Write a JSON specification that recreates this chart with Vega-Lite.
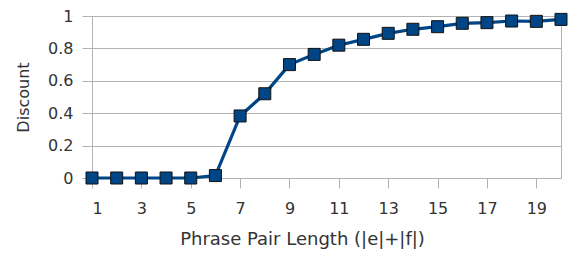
{
  "$schema": "https://vega.github.io/schema/vega-lite/v6.json",
  "width": 469,
  "height": 162,
  "autosize": "none",
  "padding": {"left": 92, "top": 16, "right": 9, "bottom": 77},
  "background": "white",
  "config": {
    "view": {"stroke": "#b3b3b3", "strokeWidth": 1},
    "font": "DejaVu Sans"
  },
  "data": {
    "values": [
      {"len": 1, "discount": 0},
      {"len": 2, "discount": 0},
      {"len": 3, "discount": 0},
      {"len": 4, "discount": 0},
      {"len": 5, "discount": 0},
      {"len": 6, "discount": 0.015},
      {"len": 7, "discount": 0.383},
      {"len": 8, "discount": 0.52},
      {"len": 9, "discount": 0.70},
      {"len": 10, "discount": 0.763},
      {"len": 11, "discount": 0.82},
      {"len": 12, "discount": 0.856},
      {"len": 13, "discount": 0.893},
      {"len": 14, "discount": 0.918},
      {"len": 15, "discount": 0.934},
      {"len": 16, "discount": 0.955},
      {"len": 17, "discount": 0.959},
      {"len": 18, "discount": 0.969},
      {"len": 19, "discount": 0.967},
      {"len": 20, "discount": 0.979}
    ]
  },
  "encoding": {
    "x": {
      "field": "len",
      "type": "quantitative",
      "scale": {"domain": [1, 20], "nice": false, "zero": false},
      "axis": {
        "values": [1, 3, 5, 7, 9, 11, 13, 15, 17, 19],
        "title": "Phrase Pair Length (|e|+|f|)",
        "grid": false,
        "domainColor": "#b3b3b3",
        "tickColor": "#b3b3b3",
        "tickSize": 10,
        "labelPadding": 12,
        "labelFontSize": 16,
        "labelColor": "#333333",
        "titleFontSize": 18,
        "titleFontWeight": "normal",
        "titleColor": "#333333",
        "titlePadding": 14,
        "titleX": 210,
        "titleAlign": "center"
      }
    },
    "y": {
      "field": "discount",
      "type": "quantitative",
      "scale": {"domain": [0, 1], "nice": false},
      "axis": {
        "values": [0, 0.2, 0.4, 0.6, 0.8, 1],
        "format": "~g",
        "title": "Discount",
        "grid": true,
        "gridColor": "#b3b3b3",
        "domainColor": "#b3b3b3",
        "tickColor": "#b3b3b3",
        "tickSize": 10,
        "labelPadding": 9,
        "labelFontSize": 16,
        "labelColor": "#333333",
        "titleFontSize": 16,
        "titleFontWeight": "normal",
        "titleColor": "#333333",
        "titlePadding": 16
      }
    }
  },
  "layer": [
    {"mark": {"type": "line", "color": "#004586", "strokeWidth": 3.2}},
    {"mark": {"type": "square", "size": 144, "filled": true, "color": "#004586", "stroke": "#111111", "strokeWidth": 1, "opacity": 1}}
  ]
}
